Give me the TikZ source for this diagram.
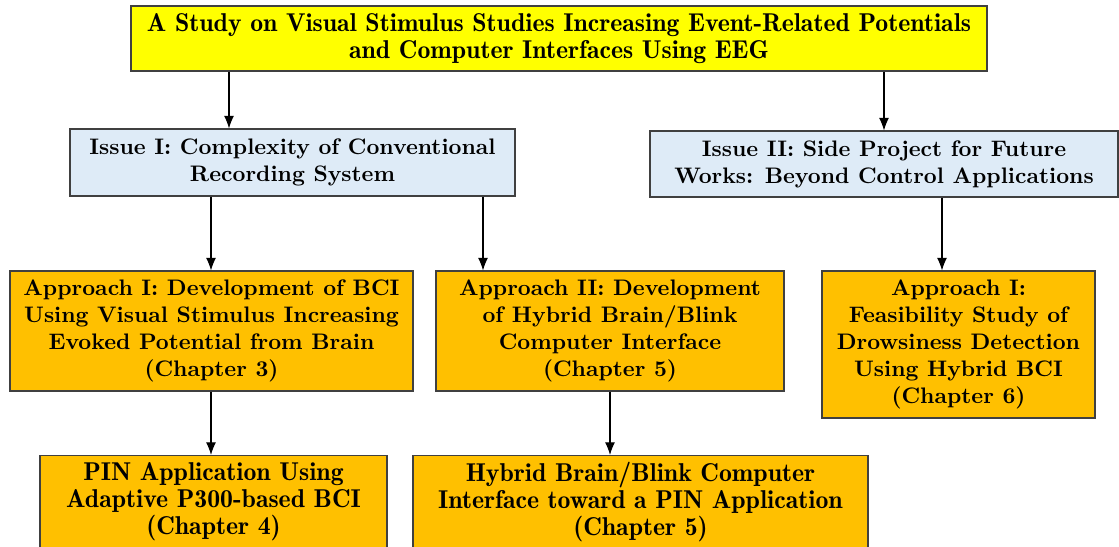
\documentclass[tikz,border=0pt]{standalone}
\usepackage{tikz}
\usetikzlibrary{arrows.meta}
\usepackage{xcolor}
\definecolor{topyellow}{RGB}{255,255,0}
\definecolor{issueblue}{RGB}{222,235,247}
\definecolor{apporange}{RGB}{255,192,0}
\definecolor{boxline}{RGB}{64,64,64}
\tikzset{
	box/.style={draw=boxline, line width=0.5pt, align=center, inner sep=0pt},
	topbox/.style={box, fill=topyellow, font=\fontsize{11.6pt}{12.4pt}\fontseries{b}\selectfont},
	issuebox/.style={box, fill=issueblue, font=\fontsize{10.1pt}{12.1pt}\bfseries},
	appbox/.style={box, fill=apporange, font=\fontsize{10.1pt}{12.2pt}\bfseries},
	resbox/.style={box, fill=apporange, font=\fontsize{11.6pt}{12.2pt}\fontseries{b}\selectfont},
	arr/.style={-{Latex[length=2mm,width=1.6mm]}, line width=0.5pt}
}
\begin{document}
\begin{tikzpicture}[x=0.45pt, y=-0.45pt]
	\useasboundingbox (0,0) rectangle (1119,547);
	\begin{scope}
	\clip (0,0) rectangle (1119,547);
	\node (study) [topbox, minimum width=385.2pt, minimum height=29.25pt] at (559,38.5)
		{A Study on Visual Stimulus Studies Increasing Event-Related Potentials\\and Computer Interfaces Using EEG};
	\node (issueA) [issuebox, minimum width=200.25pt, minimum height=30.15pt] at (292.5,162.5)
		{Issue I: Complexity of Conventional\\Recording System};
	\node (issueB) [issuebox, minimum width=210.6pt, minimum height=29.7pt] at (884,164)
		{Issue II: Side Project for Future\\Works: Beyond Control Applications};
	\node (appA) [appbox, minimum width=181.35pt, minimum height=54pt] at (211.5,331)
		{Approach I: Development of BCI\\Using Visual Stimulus Increasing\\Evoked Potential from Brain\\(Chapter 3)};
	\node (appB) [appbox, minimum width=156.6pt, minimum height=54pt] at (610,331)
		{Approach II: Development\\of Hybrid Brain/Blink\\Computer Interface\\(Chapter 5)};
	\node (appC) [appbox, minimum width=122.85pt, minimum height=66.15pt] at (958.5,344.5)
		{Approach I:\\Feasibility Study of\\Drowsiness Detection\\Using Hybrid BCI\\(Chapter 6)};
	\node (pin) [resbox, minimum width=156.15pt, minimum height=41.85pt] at (213.5,502)
		{PIN Application Using\\Adaptive P300-based BCI\\(Chapter 4)};
	\node (hybrid) [resbox, minimum width=204.75pt, minimum height=41.85pt] at (640.5,502)
		{Hybrid Brain/Blink Computer\\Interface toward a PIN Application\\(Chapter 5)};
	\end{scope}
	% arrow columns
	\coordinate (c1) at (229,0);
	\coordinate (c2) at (884,0);
	\coordinate (c3) at (211,0);
	\coordinate (c4) at (483,0);
	\coordinate (c5) at (942,0);
	\coordinate (c6) at (610,0);
	\draw[arr] (c1 |- study.south) -- (c1 |- issueA.north);
	\draw[arr] (c2 |- study.south) -- (c2 |- issueB.north);
	\draw[arr] (c3 |- issueA.south) -- (c3 |- appA.north);
	\draw[arr] (c4 |- issueA.south) -- (c4 |- appB.north);
	\draw[arr] (c5 |- issueB.south) -- (c5 |- appC.north);
	\draw[arr] (c3 |- appA.south) -- (c3 |- pin.north);
	\draw[arr] (c6 |- appB.south) -- (c6 |- hybrid.north);
\end{tikzpicture}
\end{document}
